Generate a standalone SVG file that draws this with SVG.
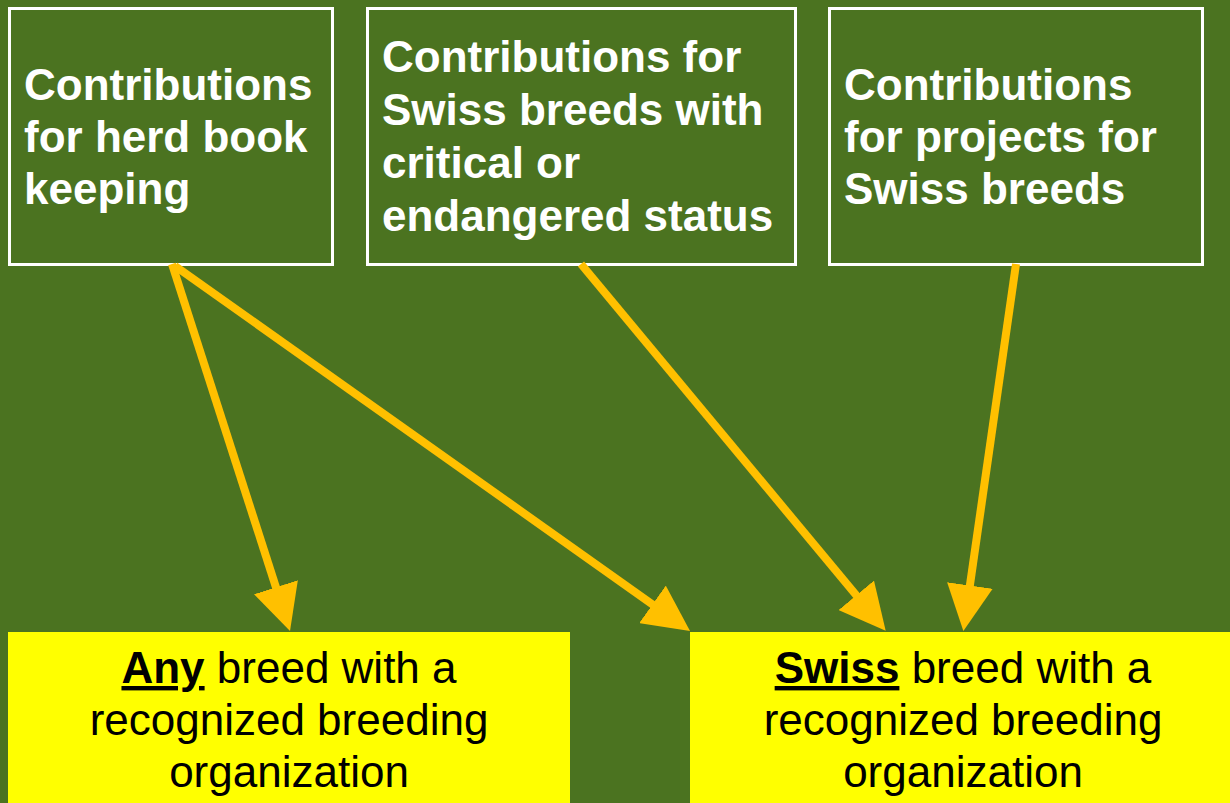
<svg xmlns="http://www.w3.org/2000/svg" width="1230" height="803" viewBox="0 0 1230 803">
<style>
.bg{fill:#4B7320}
.top rect{fill:none;stroke:#FFFFFF;stroke-width:3}
.top text{font-family:"Liberation Sans",Arial,sans-serif;font-weight:bold;font-size:44px;fill:#FFFFFF}
.bot rect{fill:#FFFF00}
.bot text{font-family:"Liberation Sans",Arial,sans-serif;font-size:44px;fill:#000000;text-anchor:middle}
.bot .em{font-weight:bold;text-decoration:underline}
.conn line{stroke:#FFC000;stroke-width:8;marker-end:url(#ah)}
</style>
<defs>
<marker id="ah" markerUnits="userSpaceOnUse" viewBox="0 0 46 46" markerWidth="46" markerHeight="46" refX="26" refY="23" orient="auto">
<path d="M0,0 L46,23 L0,46 z" fill="#FFC000"/>
</marker>
</defs>
<rect class="bg" x="0" y="0" width="1230" height="803"/>
<g id="node-herdbook" class="top">
<rect x="9.5" y="8.5" width="323" height="256"/>
<text x="24" y="100">Contributions</text>
<text x="24" y="152">for herd book</text>
<text x="24" y="204">keeping</text>
</g>
<g id="node-critical" class="top">
<rect x="367.5" y="8.5" width="428" height="256"/>
<text x="382" y="72">Contributions for</text>
<text x="382" y="125">Swiss breeds with</text>
<text x="382" y="178">critical or</text>
<text x="382" y="231">endangered status</text>
</g>
<g id="node-projects" class="top">
<rect x="829.5" y="8.5" width="373" height="256"/>
<text x="844" y="100">Contributions</text>
<text x="844" y="152">for projects for</text>
<text x="844" y="204">Swiss breeds</text>
</g>
<g id="node-any" class="bot">
<rect x="8" y="632" width="562" height="171"/>
<text x="289" y="683"><tspan class="em">Any</tspan> breed with a</text>
<text x="289" y="735">recognized breeding</text>
<text x="289" y="787">organization</text>
</g>
<g id="node-swiss" class="bot">
<rect x="690" y="632" width="540" height="171"/>
<text x="963" y="683"><tspan class="em">Swiss</tspan> breed with a</text>
<text x="963" y="735">recognized breeding</text>
<text x="963" y="787">organization</text>
</g>
<g id="connectors" class="conn">
<line x1="172" y1="264" x2="283.9" y2="612"/>
<line x1="175" y1="266" x2="673.7" y2="619.4"/>
<line x1="581" y1="264" x2="872.9" y2="615.3"/>
<line x1="1016" y1="264" x2="966.2" y2="611.2"/>
</g>
</svg>
